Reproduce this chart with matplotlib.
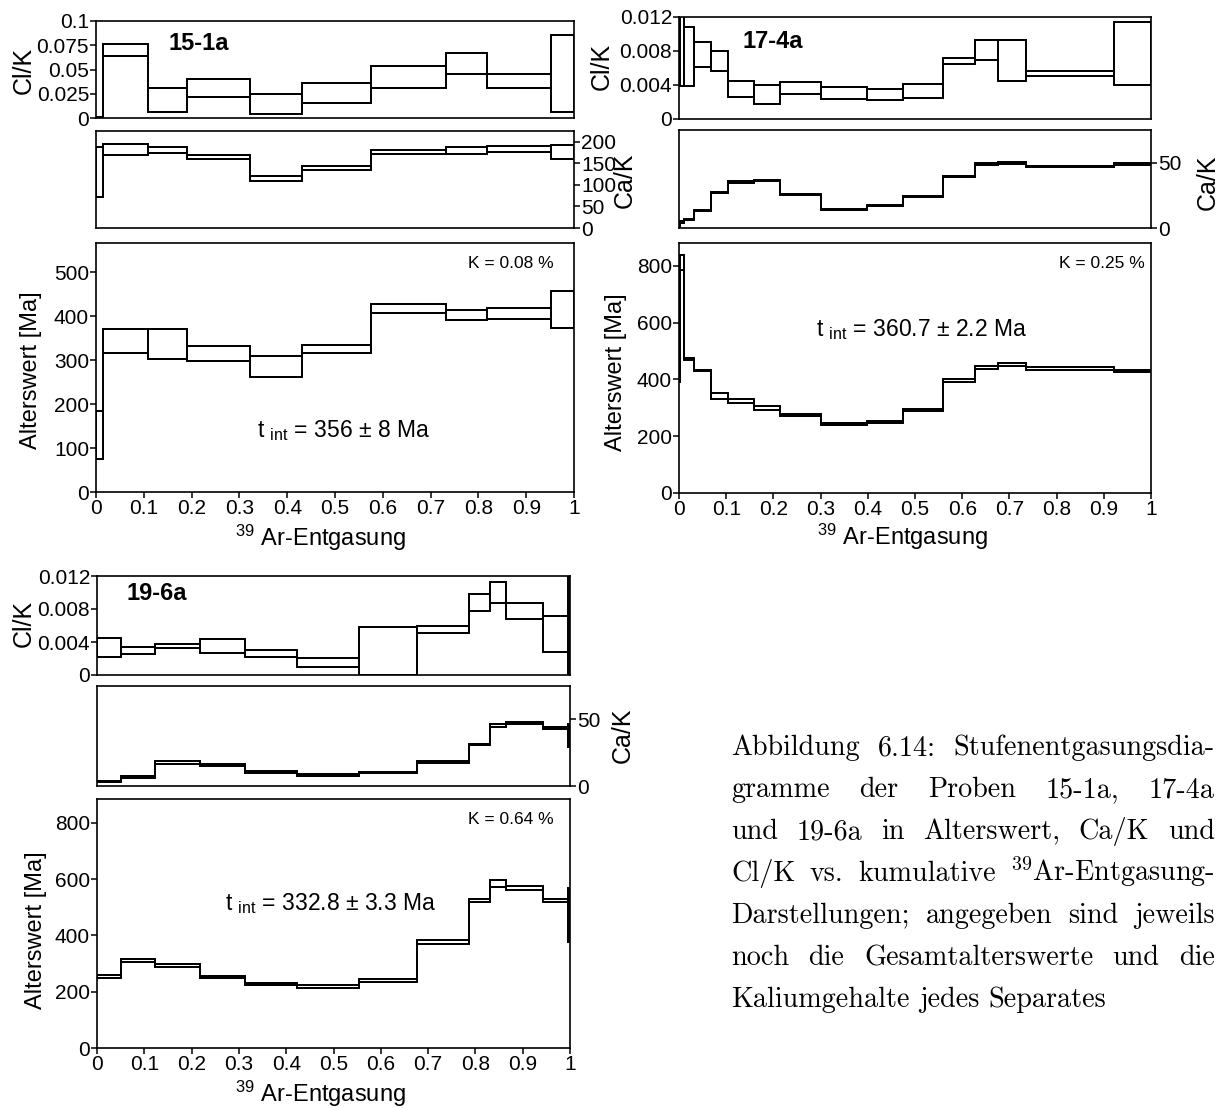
import matplotlib
matplotlib.use("Agg")
import matplotlib.pyplot as plt
from matplotlib.patches import Rectangle
import numpy as np

plt.rcParams["font.family"] = ["Liberation Sans", "DejaVu Sans"]
plt.rcParams["mathtext.fontset"] = "custom"
plt.rcParams["mathtext.rm"] = "Liberation Sans"
plt.rcParams["mathtext.it"] = "Liberation Sans:italic"
plt.rcParams["mathtext.bf"] = "Liberation Sans:bold"

# ---------------- sample 15-1a ----------------
edges_15 = [0, 0.0145, 0.109, 0.191, 0.322, 0.432, 0.576, 0.733, 0.817, 0.951, 1.0]
age_lo_15 = [75, 315, 302, 297, 262, 317, 407, 390, 393, 372]
age_hi_15 = [183, 370, 370, 332, 309, 335, 427, 413, 418, 457]
cak_lo_15 = [71, 170, 174, 161, 109, 134, 170.5, 172, 177, 161]
cak_hi_15 = [188, 196, 187, 170, 121, 143, 181, 187, 191, 193.5]
clk_lo_15 = [0.0, 0.0636, 0.0058, 0.0213, 0.0041, 0.0158, 0.031, 0.0457, 0.031, 0.0058]
clk_hi_15 = [0.0008, 0.0765, 0.031, 0.040, 0.0244, 0.0364, 0.0536, 0.0674, 0.0457, 0.0852]

# ---------------- sample 17-4a ----------------
edges_17 = [0, 0.003, 0.010, 0.031, 0.067, 0.104, 0.159, 0.215, 0.301, 0.399,
            0.474, 0.559, 0.627, 0.675, 0.735, 0.922, 1.0]
age_lo_17 = [391, 786, 468, 431, 332, 316, 291, 273, 239, 246, 289, 392, 436, 449, 432, 425]
age_hi_17 = [786, 840, 477, 434, 354, 330, 307, 280, 245, 254.5, 296, 402, 448, 457.5, 443, 434]
cak_lo_17 = [1.0, 4.2, 6.0, 12.8, 26.5, 34.6, 35.6, 25.2, 13.7, 17.0, 23.4, 38.8, 48.5, 49.2, 46.4, 48.2]
cak_hi_17 = [3.0, 5.0, 6.8, 13.5, 27.3, 36.2, 36.6, 26.0, 14.5, 17.8, 24.2, 39.6, 50.0, 50.6, 47.7, 49.7]
clk_lo_17 = [0.0056, 0.0039, 0.0039, 0.0061, 0.0056, 0.0026, 0.0018, 0.0029, 0.0024, 0.0022,
             0.0025, 0.0065, 0.0070, 0.0045, 0.0051, 0.0040]
clk_hi_17 = [0.0117, 0.0130, 0.0108, 0.0091, 0.0080, 0.0045, 0.0040, 0.0043, 0.0038, 0.0035,
             0.0041, 0.0072, 0.0093, 0.0093, 0.0057, 0.0114]

# ---------------- sample 19-6a ----------------
edges_19 = [0, 0.051, 0.123, 0.217, 0.312, 0.422, 0.554, 0.676, 0.786, 0.830, 0.865, 0.942, 0.996, 1.0]
age_lo_19 = [250, 307, 288, 249, 223, 214.5, 236, 371, 519, 572, 563, 519, 377]
age_hi_19 = [258, 315, 297.5, 257, 231, 223, 244, 383, 531, 598.5, 576, 531, 570]
cak_lo_19 = [3.0, 6.2, 16.6, 15.3, 9.7, 7.4, 9.7, 17.3, 30.4, 44.1, 46.5, 42.6, 29.2]
cak_hi_19 = [4.0, 7.2, 18.6, 16.8, 10.9, 8.7, 10.6, 18.6, 31.4, 46.5, 47.8, 44.1, 46.5]
clk_lo_19 = [0.00221, 0.00258, 0.00326, 0.00262, 0.00221, 0.00101, 0.0, 0.00515, 0.00777,
             0.00874, 0.0068, 0.00282, 0.0]
clk_hi_19 = [0.00451, 0.00334, 0.00375, 0.00439, 0.00306, 0.00201, 0.00584, 0.00596, 0.00983,
             0.01124, 0.00874, 0.00721, 0.0125]

x_ticks = [0, 0.1, 0.2, 0.3, 0.4, 0.5, 0.6, 0.7, 0.8, 0.9, 1.0]
x_ticklabels = ["0", "0.1", "0.2", "0.3", "0.4", "0.5", "0.6", "0.7", "0.8", "0.9", "1"]

W, H = 1224, 1108
fig = plt.figure(figsize=(W / 100, H / 100), dpi=100)
LW = 1.3
TICK_FS = 15
LABEL_FS = 17


def add_ax(l, t, r, b):
    return fig.add_axes([l / W, 1 - b / H, (r - l) / W, (b - t) / H])


def draw_steps(ax, edges, lo, hi):
    edges = np.asarray(edges, dtype=float)
    for x0, x1, a, b in zip(edges[:-1], edges[1:], lo, hi):
        ax.add_patch(Rectangle((x0, a), x1 - x0, b - a, fill=False, lw=LW,
                               ec="black", joinstyle="miter"))
    ax.stairs(lo, edges, baseline=None, color="black", lw=LW)
    ax.stairs(hi, edges, baseline=None, color="black", lw=LW)


def base_style(ax):
    ax.set_xlim(0, 1)
    for s in ax.spines.values():
        s.set_linewidth(1.2)
    ax.tick_params(direction="out", length=4, width=1.1, labelsize=TICK_FS, pad=1)


def ftext(x, y, s, **kw):
    return fig.text(x / W, 1 - y / H, s, **kw)


def panel(box_cl, box_ca, box_age, edges, clk, cak, age,
          cl_ticks, cl_labels, cl_ylim, ca_ticks, ca_ylim, age_ticks, age_ylim):
    ax_cl = add_ax(*box_cl)
    base_style(ax_cl)
    draw_steps(ax_cl, edges, *clk)
    ax_cl.set_ylim(*cl_ylim)
    ax_cl.set_xticks([])
    ax_cl.set_yticks(cl_ticks)
    ax_cl.set_yticklabels(cl_labels)

    ax_ca = add_ax(*box_ca)
    base_style(ax_ca)
    draw_steps(ax_ca, edges, *cak)
    ax_ca.set_ylim(*ca_ylim)
    ax_ca.set_xticks([])
    ax_ca.yaxis.tick_right()
    ax_ca.set_yticks(ca_ticks)
    ax_ca.set_yticklabels([str(v) for v in ca_ticks])

    ax_age = add_ax(*box_age)
    base_style(ax_age)
    draw_steps(ax_age, edges, *age)
    ax_age.set_ylim(*age_ylim)
    ax_age.set_yticks(age_ticks)
    ax_age.set_xticks(x_ticks)
    ax_age.set_xticklabels(x_ticklabels)
    return ax_cl, ax_ca, ax_age


# 15-1a
panel((96, 21, 574, 118), (96, 131, 574, 228), (96, 243, 574, 492),
      edges_15, (clk_lo_15, clk_hi_15), (cak_lo_15, cak_hi_15), (age_lo_15, age_hi_15),
      [0, 0.025, 0.05, 0.075, 0.1], ["0", "0.025", "0.05", "0.075", "0.1"], (0, 0.1),
      [0, 50, 100, 150, 200], (0, 225), [0, 100, 200, 300, 400, 500], (0, 566))
ftext(24, 70, "Cl/K", fontsize=18, rotation=90, ha="center", va="center")
ftext(625, 180, "Ca/K", fontsize=18, rotation=90, ha="center", va="center")
ftext(31, 370, "Alterswert [Ma]", fontsize=LABEL_FS, rotation=90, ha="center", va="center")
ftext(320, 538, r"$^{\mathrm{39}}$ Ar-Entgasung", fontsize=LABEL_FS, ha="center", va="center")
ftext(169, 43, "15-1a", fontsize=17, fontweight="bold", ha="left", va="center")
ftext(554, 263, "K = 0.08 %", fontsize=12.5, ha="right", va="center")
ftext(257, 437, r"t $_{\mathrm{int}}$ = 356 ± 8 Ma", fontsize=16.5, ha="left", va="baseline")

# 17-4a
panel((679, 17, 1151, 119), (679, 130, 1151, 228), (679, 243, 1151, 493),
      edges_17, (clk_lo_17, clk_hi_17), (cak_lo_17, cak_hi_17), (age_lo_17, age_hi_17),
      [0, 0.004, 0.008, 0.012], ["0", "0.004", "0.008", "0.012"], (0, 0.012),
      [0, 50], (0, 75), [0, 200, 400, 600, 800], (0, 881))
ftext(602, 66, "Cl/K", fontsize=18, rotation=90, ha="center", va="center")
ftext(1208, 182, "Ca/K", fontsize=18, rotation=90, ha="center", va="center")
ftext(616, 372, "Alterswert [Ma]", fontsize=LABEL_FS, rotation=90, ha="center", va="center")
ftext(902, 537, r"$^{\mathrm{39}}$ Ar-Entgasung", fontsize=LABEL_FS, ha="center", va="center")
ftext(742, 42, "17-4a", fontsize=17, fontweight="bold", ha="left", va="center")
ftext(1145, 263, "K = 0.25 %", fontsize=12.5, ha="right", va="center")
ftext(816, 336, r"t $_{\mathrm{int}}$ = 360.7 ± 2.2 Ma", fontsize=16.5, ha="left", va="baseline")

# 19-6a
panel((97, 576, 570, 675), (97, 686, 570, 786), (97, 799, 570, 1048),
      edges_19, (clk_lo_19, clk_hi_19), (cak_lo_19, cak_hi_19), (age_lo_19, age_hi_19),
      [0, 0.004, 0.008, 0.012], ["0", "0.004", "0.008", "0.012"], (0, 0.012),
      [0, 50], (0, 75), [0, 200, 400, 600, 800], (0, 885))
ftext(24, 623, "Cl/K", fontsize=18, rotation=90, ha="center", va="center")
ftext(623, 735, "Ca/K", fontsize=18, rotation=90, ha="center", va="center")
ftext(36, 930, "Alterswert [Ma]", fontsize=LABEL_FS, rotation=90, ha="center", va="center")
ftext(320, 1094, r"$^{\mathrm{39}}$ Ar-Entgasung", fontsize=LABEL_FS, ha="center", va="center")
ftext(127, 594, "19-6a", fontsize=17, fontweight="bold", ha="left", va="center")
ftext(554, 820, "K = 0.64 %", fontsize=12.5, ha="right", va="center")
ftext(225, 910, r"t $_{\mathrm{int}}$ = 332.8 ± 3.3 Ma", fontsize=16.5, ha="left", va="baseline")

# ---------------- justified caption ----------------
caption_lines = [
    "Abbildung 6.14: Stufenentgasungsdia-",
    "gramme der Proben 15-1a, 17-4a",
    "und 19-6a in Alterswert, Ca/K und",
    r"Cl/K vs. kumulative $^{39}$Ar-Entgasung-",
    "Darstellungen; angegeben sind jeweils",
    "noch die Gesamtalterswerte und die",
    "Kaliumgehalte jedes Separates",
]
CAP_X0, CAP_X1 = 731, 1215
CAP_Y0, CAP_DY = 755, 42
CAP_FS = 20.3
renderer = fig.canvas.get_renderer()
for i, line in enumerate(caption_lines):
    words = line.split(" ")
    y = CAP_Y0 + i * CAP_DY
    items = [fig.text(0, 0, w, family="cmr10", math_fontfamily="cm", fontsize=CAP_FS,
                      ha="left", va="baseline") for w in words]
    widths = [t.get_window_extent(renderer).width for t in items]
    if i == len(caption_lines) - 1:
        gap = CAP_FS * 100 / 72 * 0.333
    else:
        gap = (CAP_X1 - CAP_X0 - sum(widths)) / (len(words) - 1)
    x = CAP_X0
    for t, w in zip(items, widths):
        t.set_position((x / W, 1 - y / H))
        x += w + gap

fig.savefig("out.png", dpi=100)
